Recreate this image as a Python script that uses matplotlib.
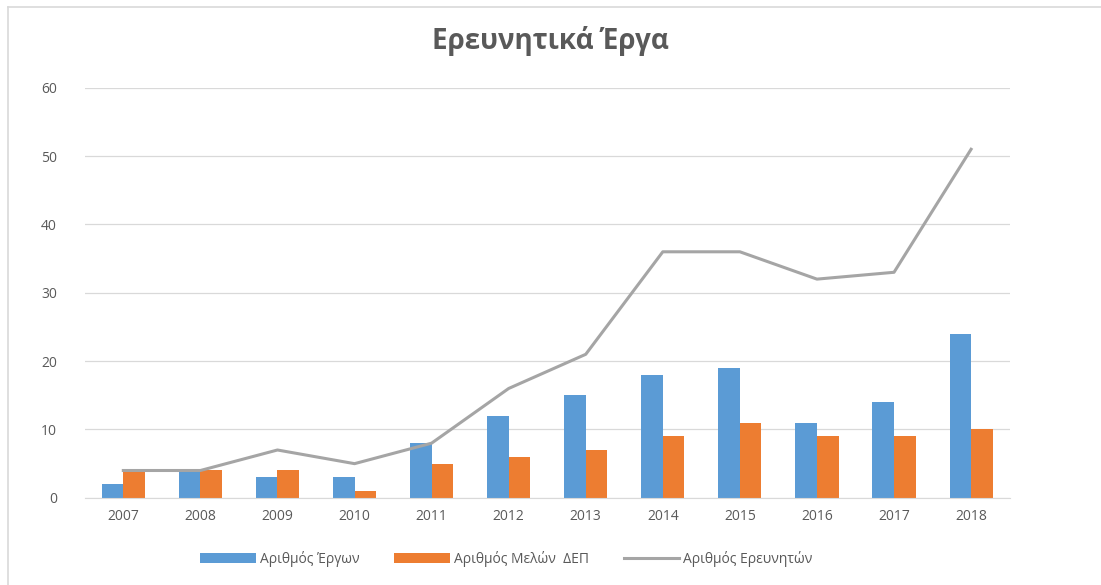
import matplotlib
matplotlib.use("Agg")
import matplotlib.pyplot as plt
import numpy as np
from matplotlib.lines import Line2D

years = ["2007", "2008", "2009", "2010", "2011", "2012", "2013", "2014", "2015", "2016", "2017", "2018"]
projects = [2, 4, 3, 3, 8, 12, 15, 18, 19, 11, 14, 24]
members = [4, 4, 4, 1, 5, 6, 7, 9, 11, 9, 9, 10]
researchers = [4, 4, 7, 5, 8, 16, 21, 36, 36, 32, 33, 51]

title = "Ερευνητικά Έργα"
labels = ["Αριθμός Έργων", "Αριθμός Μελών  ΔΕΠ", "Αριθμός Ερευνητών"]

plt.rcParams['font.family'] = ['Open Sans', 'DejaVu Sans']

fig = plt.figure(figsize=(11.01, 5.85), dpi=100)
ax = fig.add_axes([0.077, 0.149, 0.84, 0.701])

x = np.arange(len(years))
w = 0.28
b1 = ax.bar(x - w/2, projects, w, color="#5B9BD5", label=labels[0], zorder=2)
b2 = ax.bar(x + w/2, members, w, color="#ED7D31", label=labels[1], zorder=2)
l1, = ax.plot(x, researchers, color="#A5A5A5", lw=2.2, label=labels[2], zorder=3)

ax.set_xlim(-0.5, len(years) - 0.5)
ax.set_ylim(0, 60)
ax.set_yticks(range(0, 61, 10))
ax.set_xticks(x)
ax.set_xticklabels(years)
ax.grid(axis='y', color="#D9D9D9", lw=0.9, zorder=0)
ax.set_axisbelow(True)
for s in ["top", "right", "left"]:
    ax.spines[s].set_visible(False)
ax.spines["bottom"].set_color("#D9D9D9")
ax.tick_params(axis='both', length=0, labelsize=10, colors="#595959", pad=8)
ax.tick_params(axis='y', pad=20)

fig.suptitle(title, x=0.5, y=0.955, fontsize=20, fontweight='bold', color="#595959")

leg = fig.legend([b1, b2, l1], labels, loc="center", bbox_to_anchor=(0.46, 0.045), ncol=3,
                 frameon=False, fontsize=10, handlelength=4.0, columnspacing=2.5,
                 handletextpad=0.3)
for t in leg.get_texts():
    t.set_color("#595959")

fig.add_artist(Line2D([0.0073, 1.0], [0.988, 0.988], transform=fig.transFigure,
                      color="#D9D9D9", lw=1.2))
fig.add_artist(Line2D([0.0073, 0.0073], [0.0, 0.988], transform=fig.transFigure,
                      color="#D9D9D9", lw=1.2))

fig.savefig("out.png", dpi=100)
